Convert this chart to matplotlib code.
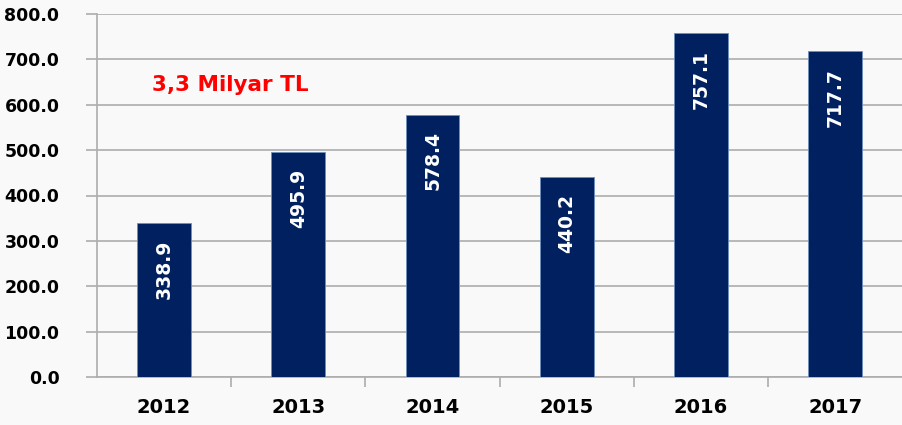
import matplotlib
matplotlib.use("Agg")
import matplotlib.pyplot as plt
import numpy as np

years = ["2012", "2013", "2014", "2015", "2016", "2017"]
values = [338.9, 495.9, 578.4, 440.2, 757.1, 717.7]
note = "3,3 Milyar TL"

BAR_COLOR = "#002060"
BG = "#f9f9f9"
GRID = "#adadad"

fig = plt.figure(figsize=(9.02, 4.25), dpi=100, facecolor=BG)
ax = fig.add_axes([0.1075, 0.113, 0.893, 0.854], facecolor=BG)

x = np.arange(len(years))
ax.bar(x, values, width=0.4, color=BAR_COLOR, edgecolor="#6f8fbf", linewidth=0.6, zorder=3)

# value labels sit inside the bar, rotated, just under the top
for xi, v in zip(x, values):
    ax.annotate(f"{v:.1f}", (xi, v), xytext=(0, -12), textcoords="offset points",
                rotation=90, ha="center", va="top", color="white",
                fontsize=13.5, fontweight="bold", zorder=4)

ax.text(-0.09, 643, note, color="red", fontsize=15.5, fontweight="bold", va="center", ha="left")

ax.set_ylim(0, 800)
ax.set_xlim(-0.5, len(years) - 0.5)
ax.set_yticks(np.arange(0, 801, 100))
ax.set_yticklabels([f"{t:.1f}" for t in np.arange(0, 801, 100)], fontsize=12.5, fontweight="bold")
ax.yaxis.grid(True, color=GRID, linewidth=1.2, zorder=0)
ax.tick_params(axis="y", length=8, color=GRID, width=1.2, pad=19)

ax.set_xticks(x)
ax.set_xticklabels(years, fontsize=14, fontweight="bold")
ax.tick_params(axis="x", length=0, pad=15)
ax.set_xticks(np.arange(0.5, len(years) - 0.5, 1), minor=True)
ax.tick_params(axis="x", which="minor", length=7, color=GRID, width=1.2)

for side in ["top", "right"]:
    ax.spines[side].set_visible(False)
for side in ["left", "bottom"]:
    ax.spines[side].set_color(GRID)
    ax.spines[side].set_linewidth(1.2)

fig.savefig("out.png", dpi=100, facecolor=BG)
